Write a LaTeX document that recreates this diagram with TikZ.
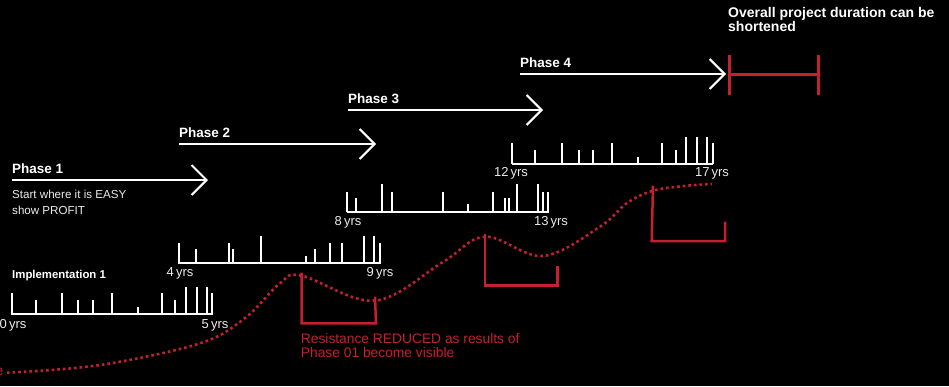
\documentclass[tikz,border=0pt]{standalone}
\usepackage{fontspec}
\setmainfont{Liberation Sans}
\usetikzlibrary{arrows.meta}
\definecolor{resred}{RGB}{196,32,48}
\definecolor{softwhite}{RGB}{235,235,235}

\begin{document}
\begin{tikzpicture}[x=1pt,y=-1pt,
    phase/.style={draw=white,line width=2pt,-{Straight Barb[length=15pt,width=30pt]}},
    phaselabel/.style={anchor=base west,inner sep=0pt,text=white,font=\bfseries\fontsize{13.5}{16}\selectfont},
    bar/.style={draw=white,line width=2pt},
    yrs/.style={anchor=base,inner sep=0pt,text=softwhite,font=\fontsize{13}{15}\selectfont},
    redline/.style={draw=resred,line width=2.5pt},
    resist/.style={draw=resred,line width=2.6pt,dash pattern=on 2.6pt off 3pt}]
    \fill[black] (0,0) rectangle (949,386);
    \useasboundingbox (0,0) rectangle (949,386);
    \clip (0,0) rectangle (949,386);
    % phases
    \coordinate (p1a) at (12,180);  \coordinate (p1b) at (208,180);
    \coordinate (p2a) at (179,144); \coordinate (p2b) at (376,144);
    \coordinate (p3a) at (348,110); \coordinate (p3b) at (543,110);
    \coordinate (p4a) at (520,74);  \coordinate (p4b) at (726,74);
    \draw[phase] (p1a) -- (p1b);
    \draw[phase] (p2a) -- (p2b);
    \draw[phase] (p3a) -- (p3b);
    \draw[phase] (p4a) -- (p4b);
    \node[phaselabel] (ph1) at (12,173) {Phase 1};
    \node[phaselabel] (ph2) at (179,137.5) {Phase 2};
    \node[phaselabel] (ph3) at (348,103) {Phase 3};
    \node[phaselabel] (ph4) at (520,67.5) {Phase 4};
    \node[anchor=base west,inner sep=0pt,align=left,text=softwhite,font=\fontsize{11.6}{15.3}\selectfont] (easy) at (12,214) {Start where it is EASY\\show PROFIT};
    % shortened duration
    \coordinate (s1) at (729.5,74.5); \coordinate (s2) at (818.5,74.5);
    \draw[redline] (s1) -- (s2);
    \draw[redline] ([yshift=-20pt]s1) -- ([yshift=20pt]s1);
    \draw[redline] ([yshift=-20pt]s2) -- ([yshift=20pt]s2);
    \node[anchor=base west,inner sep=0pt,align=left,text=white,font=\bfseries\fontsize{14}{14.7}\selectfont] (overall) at (728,31.7) {Overall project duration can be\\shortened};
    % timeline 1
    \node[anchor=base west,inner sep=0pt,text=white,font=\bfseries\fontsize{11.4}{13}\selectfont] (impl) at (12,278.3) {Implementation 1};
    \coordinate (t1a) at (11,314); \coordinate (t1b) at (213,314);
    \draw[bar] (t1a) -- (t1b);
    \foreach \x/\h in {11.7/21,36/14,61.7/21,78.3/14,92.7/14,111.7/21,137.7/7,162.3/21,175/14,185.7/27,196.7/27,206.7/27,212.3/21}
        \draw[bar] (\x,314) -- ++(0,-\h);
    \node[yrs] (y0) at (13,328) {0\,yrs};
    \node[yrs] (y5) at (215,328) {5\,yrs};
    % timeline 2
    \coordinate (t2a) at (178.3,263.3); \coordinate (t2b) at (380.7,263.3);
    \draw[bar] (t2a) -- (t2b);
    \foreach \x/\h in {179/20,196/14,229/20,232.7/14,261/27,305.7/7,315/14,330/20,341.7/20,364/27,374.3/27,380/20}
        \draw[bar] (\x,263.3) -- ++(0,-\h);
    \node[yrs] (y4) at (180,276.7) {4\,yrs};
    \node[yrs] (y9) at (380,276.7) {9\,yrs};
    % timeline 3
    \coordinate (t3a) at (346.7,212); \coordinate (t3b) at (549,212);
    \draw[bar] (t3a) -- (t3b);
    \foreach \x/\h in {346.7/20,355.7/14,382.3/28,391.7/20,442.5/20,468.3/8,492.5/20,505.3/14,509/14,516.7/28,537.5/28,542.7/20,548/20}
        \draw[bar] (\x,212) -- ++(0,-\h);
    \node[yrs] (y8) at (348,225) {8\,yrs};
    \node[yrs] (y13) at (551,225) {13\,yrs};
    % timeline 4
    \coordinate (t4a) at (511.7,164); \coordinate (t4b) at (713.3,164);
    \draw[bar] (t4a) -- (t4b);
    \foreach \x/\h in {512.3/21,535/14,562.3/21,579/14,593.3/14,612.3/21,638.3/7,662.3/21,675.7/14,686/27,697.3/27,707.3/27,712.7/21}
        \draw[bar] (\x,164) -- ++(0,-\h);
    \node[yrs] (y12) at (511,176.7) {12\,yrs};
    \node[yrs] (y17) at (712,176.7) {17\,yrs};
    % resistance curve
    \coordinate (peak1) at (301.7,275.7); \coordinate (low1) at (375,300.7);
    \coordinate (peak2) at (485,236.7);   \coordinate (low2) at (543,256);
    \coordinate (flat) at (653,190.7);
    \node[anchor=base east,inner sep=0pt,text=resred,font=\fontsize{14}{14}\selectfont] (cut) at (3.5,375.5) {e};
    \draw[resist] plot[smooth,tension=0.6] coordinates {(7,372.7) (100,365) (200,343.3) (245,318) (280,283.3) (peak1) (low1) (443,262) (peak2) (low2) (600,226.7) (627,203) (flat) (684,186) (712,184)};
    \draw[redline] ([yshift=3pt]peak1) -- (301.7,323.3) -- (376,323.3) -- ([yshift=4pt]low1);
    \draw[redline] ([yshift=3pt]peak2) -- (485,285.7) -- (557.7,285.7) -- (557.7,266);
    \draw[redline] ([yshift=5pt]flat) -- (651.7,241) -- (725,241) -- (725,221.7);
    \node[anchor=base west,inner sep=0pt,align=left,text=resred,font=\fontsize{13.8}{14}\selectfont] (reduced) at (300.7,357.3) {Resistance REDUCED as results of\\Phase 01 become visible};
\end{tikzpicture}
\end{document}
